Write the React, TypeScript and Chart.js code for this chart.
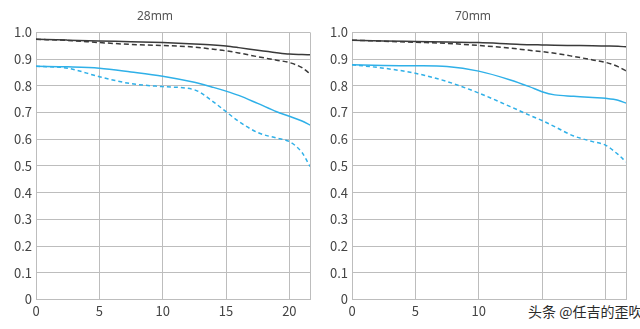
import React, { useEffect, useRef } from "react";
import { Chart, registerables } from "chart.js";

Chart.register(...registerables);

// image height positions (mm)
const positions = [0, 2.5, 5, 7.5, 10, 12.5, 14, 15, 16, 17.5, 19, 20, 21, 21.63];

// 28mm
const s10_28 = [0.974, 0.971, 0.968, 0.965, 0.962, 0.957, 0.953, 0.949, 0.943, 0.933, 0.924, 0.919, 0.917, 0.916];
const m10_28 = [0.974, 0.970, 0.962, 0.955, 0.951, 0.945, 0.937, 0.931, 0.923, 0.909, 0.896, 0.887, 0.868, 0.845];
const s30_28 = [0.873, 0.871, 0.866, 0.852, 0.836, 0.813, 0.794, 0.780, 0.764, 0.734, 0.703, 0.686, 0.668, 0.653];
const m30_28 = [0.873, 0.866, 0.834, 0.808, 0.797, 0.785, 0.740, 0.703, 0.667, 0.625, 0.604, 0.591, 0.550, 0.498];

// 70mm
const s10_70 = [0.971, 0.968, 0.966, 0.964, 0.962, 0.957, 0.954, 0.953, 0.952, 0.951, 0.950, 0.949, 0.948, 0.946];
const m10_70 = [0.971, 0.967, 0.963, 0.959, 0.951, 0.941, 0.933, 0.928, 0.922, 0.910, 0.897, 0.888, 0.872, 0.856];
const s30_70 = [0.879, 0.876, 0.875, 0.872, 0.855, 0.822, 0.797, 0.778, 0.766, 0.761, 0.756, 0.753, 0.746, 0.735];
const m30_70 = [0.879, 0.866, 0.847, 0.816, 0.773, 0.722, 0.690, 0.670, 0.647, 0.612, 0.591, 0.578, 0.543, 0.515];

const xTickValues = [0, 5, 10, 15, 20];
const xMax = 21.63;
const titles = ["28mm", "70mm"];
const watermark = "头条 @任吉的歪吹";

const BLACK = "#3a3a3a";
const BLUE = "#2fb0e8";
const GRID = "#bdbdbd";
const TICK_FONT = { family: "'Noto Sans CJK SC', 'Noto Sans'", size: 13 };

function pts(vals: number[]) {
  return positions.map((x, i) => ({ x, y: vals[i] }));
}

function ds(label: string, vals: number[], color: string, dash: number[]) {
  return {
    label,
    data: pts(vals),
    borderColor: color,
    backgroundColor: color,
    borderWidth: 1.5,
    borderDash: dash,
    pointRadius: 0,
    cubicInterpolationMode: "monotone" as const,
    fill: false,
  };
}

function Panel(props: {
  title: string;
  series: number[][];
  yWidth: number;
  padRight: number;
}) {
  const ref = useRef<HTMLCanvasElement>(null);
  useEffect(() => {
    if (!ref.current) return;
    const [s10, m10, s30, m30] = props.series;
    const chart = new Chart(ref.current, {
      type: "line",
      data: {
        datasets: [
          ds("S10", s10, BLACK, []),
          ds("M10", m10, BLACK, [5, 3]),
          ds("S30", s30, BLUE, []),
          ds("M30", m30, BLUE, [4, 3]),
        ],
      },
      options: {
        responsive: false,
        animation: false,
        layout: { padding: { left: 0, right: props.padRight, top: 0, bottom: 6 } },
        plugins: {
          legend: { display: false },
          tooltip: { enabled: false },
          title: {
            display: true,
            text: props.title,
            color: "#555",
            font: { family: "Noto Sans", size: 12, weight: "normal" },
            padding: { top: 9, bottom: 9 },
          },
        },
        scales: {
          x: {
            type: "linear",
            min: 0,
            max: xMax,
            afterBuildTicks: (scale: any) => {
              scale.ticks = [...xTickValues, xMax].map((v) => ({ value: v }));
            },
            ticks: {
              autoSkip: false,
              maxRotation: 0,
              padding: 4,
              color: "#444",
              font: TICK_FONT,
              callback: (v: any) => (xTickValues.includes(Number(v)) ? String(v) : ""),
            },
            grid: { color: GRID, lineWidth: 1, drawTicks: false },
            border: { color: GRID, width: 1 },
          },
          y: {
            type: "linear",
            min: 0,
            max: 1,
            ticks: {
              stepSize: 0.1,
              padding: 4,
              color: "#444",
              font: TICK_FONT,
              callback: (v: any) => (Number(v) === 0 ? "0" : Number(v).toFixed(1)),
            },
            grid: { color: GRID, lineWidth: 1, drawTicks: false },
            border: { color: GRID, width: 1 },
            afterFit: (scale: any) => {
              scale.width = props.yWidth;
            },
          },
        },
      },
    });
    return () => chart.destroy();
  }, []);
  return <canvas ref={ref} width={320} height={329} style={{ display: "block" }} />;
}

export default function App() {
  return (
    <div style={{ position: "fixed", left: 0, top: 0, width: 640, height: 329, background: "#fff" }}>
      <div style={{ position: "absolute", left: 0, top: 0 }}>
        <Panel title={titles[0]} series={[s10_28, m10_28, s30_28, m30_28]} yWidth={36} padRight={10} />
      </div>
      <div style={{ position: "absolute", left: 320, top: 0 }}>
        <Panel title={titles[1]} series={[s10_70, m10_70, s30_70, m30_70]} yWidth={32} padRight={14} />
      </div>
      <div
        style={{
          position: "absolute",
          left: 526,
          top: 301,
          padding: "0 4px 0 2px",
          background: "#fff",
          color: "#2a2a2a",
          fontFamily: "'Noto Sans CJK SC', 'Noto Sans'",
          fontSize: 14,
          lineHeight: "20px",
          whiteSpace: "nowrap",
        }}
      >
        {watermark}
      </div>
    </div>
  );
}
